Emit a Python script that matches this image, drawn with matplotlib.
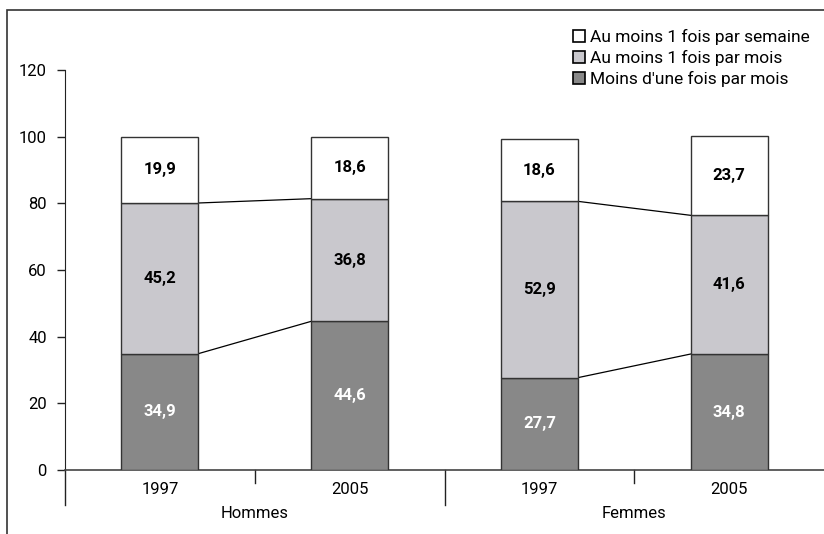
import matplotlib
matplotlib.use("Agg")
import matplotlib.pyplot as plt
from matplotlib.patches import Patch, Rectangle

plt.rcParams['font.family'] = ['Roboto', 'DejaVu Sans']

years = ['1997', '2005', '1997', '2005']
groups = ['Hommes', 'Femmes']
moins_mois = [34.9, 44.6, 27.7, 34.8]
au_moins_mois = [45.2, 36.8, 52.9, 41.6]
au_moins_semaine = [19.9, 18.6, 18.6, 23.7]
series_names = ['Au moins 1 fois par semaine', 'Au moins 1 fois par mois',
                "Moins d'une fois par mois"]

c_dark = '#888888'
c_light = '#c9c8cd'
c_white = '#ffffff'
edge = '#333333'
w = 0.405
fs = 12

fig = plt.figure(figsize=(8.24, 5.34), dpi=100)
ax = fig.add_axes([65 / 824, 64 / 534, 1 - 65 / 824, 400 / 534])

x = list(range(len(years)))
mid_bottom = moins_mois
top_bottom = [a + b for a, b in zip(moins_mois, au_moins_mois)]

ax.bar(x, moins_mois, w, color=c_dark, edgecolor=edge, linewidth=1, zorder=3)
ax.bar(x, au_moins_mois, w, bottom=mid_bottom, color=c_light, edgecolor=edge, linewidth=1, zorder=3)
ax.bar(x, au_moins_semaine, w, bottom=top_bottom, color=c_white, edgecolor=edge, linewidth=1, zorder=3)

def fmt(v):
    return f"{v:.1f}".replace('.', ',')

for i in x:
    ax.text(i, moins_mois[i] / 2, fmt(moins_mois[i]), ha='center', va='center',
            color='white', fontsize=fs, fontweight='bold', zorder=4)
    ax.text(i, mid_bottom[i] + au_moins_mois[i] / 2, fmt(au_moins_mois[i]), ha='center',
            va='center', color='black', fontsize=fs, fontweight='bold', zorder=4)
    ax.text(i, top_bottom[i] + au_moins_semaine[i] / 2, fmt(au_moins_semaine[i]), ha='center',
            va='center', color='black', fontsize=fs, fontweight='bold', zorder=4)

# connecting lines inside each group
for a in (0, 2):
    b = a + 1
    for cum in (moins_mois, top_bottom):
        ax.plot([a + w / 2, b - w / 2], [cum[a], cum[b]], color='black', lw=0.9, zorder=2)

ax.set_xlim(-0.5, 3.5)
ax.set_ylim(0, 120)
ax.set_yticks(range(0, 121, 20))
ax.tick_params(axis='y', direction='out', length=6, width=1, color='#222222',
               labelsize=fs, pad=7)
ax.set_xticks(x)
ax.set_xticklabels(years, fontsize=fs)
ax.tick_params(axis='x', length=0, pad=9)
for s in ('top', 'right'):
    ax.spines[s].set_visible(False)
ax.spines['left'].set_color('#222222')
ax.spines['bottom'].set_color('#444444')
ax.spines['bottom'].set_linewidth(1.2)

trans = ax.get_xaxis_transform()
for xs in (0.5, 2.5):
    ax.plot([xs, xs], [0, -0.032], color='#222222', lw=1, transform=trans, clip_on=False)
for xs in (-0.5, 1.5):
    ax.plot([xs, xs], [0, -0.088], color='#222222', lw=1, transform=trans, clip_on=False)
for gi, g in enumerate(groups):
    ax.text(gi * 2 + 0.5, -0.108, g, transform=trans, ha='center', va='center', fontsize=fs)

handles = [Patch(facecolor=c, edgecolor='black', linewidth=1.2)
           for c in (c_white, c_light, c_dark)]
fig.legend(handles, series_names, loc='upper right', bbox_to_anchor=(0.998, 0.968),
           frameon=False, fontsize=12.5, handlelength=0.7, handleheight=0.7,
           handletextpad=0.3, labelspacing=0.28, borderpad=0.2)

fig.patches.append(Rectangle((7 / 824, -0.1), 1.2, 1 - 10 / 534 + 0.1, transform=fig.transFigure,
                             fill=False, edgecolor='#333333', linewidth=1.2))

fig.savefig('out.png', dpi=100)
